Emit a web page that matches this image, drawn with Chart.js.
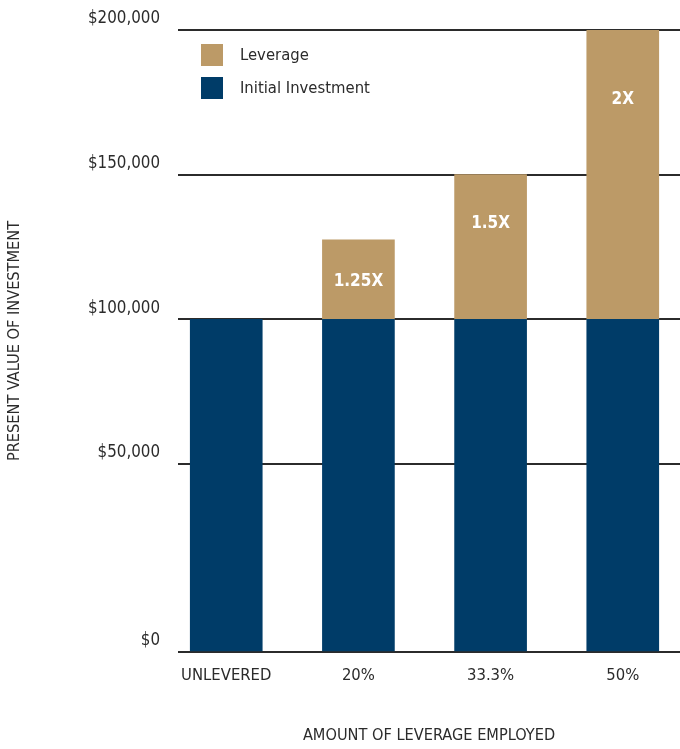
<!DOCTYPE html>
<html><head><meta charset="utf-8">
<script src="https://cdn.jsdelivr.net/npm/chart.js@4.4.1/dist/chart.umd.min.js"></script>
<style>html,body{margin:0;padding:0;background:#fff;}canvas{display:block;}</style>
</head><body>
<canvas id="c" width="680" height="749"></canvas>
<script>
// ---- data ----
const categories = ['UNLEVERED', '20%', '33.3%', '50%'];
const initialInvestment = [100000, 100000, 100000, 100000];
const leverage = [null, 27500, 50000, 100000];
const multipleLabels = ['', '1.25X', '1.5X', '2X'];
const yTickValues = [0, 50000, 100000, 150000, 200000];
const seriesNames = ['Initial Investment', 'Leverage'];
const xAxisTitle = 'AMOUNT OF LEVERAGE EMPLOYED';
const yAxisTitle = 'PRESENT VALUE OF INVESTMENT';

// ---- styling ----
const FONT = '"Liberation Sans Narrow", "DejaVu Sans Condensed", "Liberation Sans", sans-serif';
const TEXT = '#2b2b2b';
const NAVY = '#003c68';
const GOLD = '#bc9a67';

// Axis whose value intervals can have unequal visual weights (as in the original graphic)
class SegmentedScale extends Chart.LinearScale {
  static id = 'segmented';
  static defaults = {};
  _decimal(value) {
    const b = this.options.breaks, w = this.options.weights;
    const total = w.reduce((a, c) => a + c, 0);
    let acc = 0;
    for (let i = 0; i < w.length; i++) {
      if (value <= b[i + 1] || i === w.length - 1) {
        return (acc + w[i] * (value - b[i]) / (b[i + 1] - b[i])) / total;
      }
      acc += w[i];
    }
    return 0;
  }
  getPixelForValue(value) {
    if (value === null || value === undefined || isNaN(value)) return NaN;
    return this.getPixelForDecimal(this._decimal(value));
  }
  getValueForPixel(pixel) {
    const d = this.getDecimalForPixel(pixel);
    const b = this.options.breaks, w = this.options.weights;
    const total = w.reduce((a, c) => a + c, 0);
    let acc = 0;
    for (let i = 0; i < w.length; i++) {
      const f = w[i] / total;
      if (d <= acc + f || i === w.length - 1) {
        return b[i] + (d - acc) / f * (b[i + 1] - b[i]);
      }
      acc += f;
    }
    return 0;
  }
}
Chart.register(SegmentedScale);

const barLabelPlugin = {
  id: 'barLabels',
  afterDatasetsDraw(chart, args, opts) {
    const meta = chart.getDatasetMeta(1);
    const ctx = chart.ctx;
    ctx.save();
    ctx.fillStyle = '#ffffff';
    ctx.font = 'bold 17px ' + FONT;
    ctx.textAlign = 'center';
    ctx.textBaseline = 'middle';
    meta.data.forEach((el, i) => {
      const txt = multipleLabels[i];
      if (!txt || leverage[i] == null) return;
      const y = el.y + opts.positions[i] * (el.base - el.y);
      ctx.fillText(txt, el.x, y);
    });
    ctx.restore();
  }
};

const legendPlugin = {
  id: 'innerLegend',
  afterDraw(chart, args, opts) {
    const ctx = chart.ctx;
    const ca = chart.chartArea;
    const items = chart.data.datasets.slice().reverse();
    ctx.save();
    ctx.font = '16.5px ' + FONT;
    ctx.textBaseline = 'middle';
    ctx.textAlign = 'left';
    items.forEach((ds, i) => {
      const bx = ca.left + opts.offsetX;
      const by = ca.top + opts.offsetY + i * opts.rowGap;
      ctx.fillStyle = ds.backgroundColor;
      ctx.fillRect(bx, by, opts.box, opts.box);
      ctx.fillStyle = TEXT;
      ctx.fillText(ds.label, bx + opts.textGap, by + opts.box / 2 + 1);
    });
    ctx.restore();
  }
};

new Chart(document.getElementById('c'), {
  type: 'bar',
  data: {
    datasets: [
      {
        label: seriesNames[0],
        data: initialInvestment.map((v, i) => ({ x: i, y: v })),
        backgroundColor: NAVY,
        barThickness: 72,
        borderWidth: 0
      },
      {
        label: seriesNames[1],
        data: leverage.map((v, i) => ({ x: i, y: v })),
        backgroundColor: GOLD,
        barThickness: 72,
        borderWidth: 0
      }
    ]
  },
  options: {
    responsive: false,
    animation: false,
    devicePixelRatio: 1,
    layout: { padding: { top: 30, right: 0, bottom: 0, left: 0 } },
    plugins: {
      legend: { display: false },
      tooltip: { enabled: false },
      barLabels: { positions: [0, 0.53, 0.34, 0.24] },
      innerLegend: { offsetX: 23, offsetY: 14, rowGap: 33, box: 22, textGap: 39 }
    },
    scales: {
      x: {
        type: 'linear',
        min: -0.365,
        max: 3.433,
        offset: false,
        stacked: true,
        grid: { display: false, drawTicks: false, offset: false },
        border: { display: false },
        afterBuildTicks: (s) => { s.ticks = categories.map((_, i) => ({ value: i })); },
        ticks: {
          callback: (v) => categories[v] ?? '',
          autoSkip: false,
          maxRotation: 0,
          padding: 14,
          color: TEXT,
          font: { family: FONT, size: 16.5 }
        },
        title: {
          display: true,
          text: xAxisTitle,
          color: TEXT,
          font: { family: FONT, size: 16.2 },
          padding: { top: 0, bottom: 3 }
        },
        afterFit: (s) => { s.height = 97; }
      },
      y: {
        type: 'segmented',
        breaks: yTickValues,
        weights: [1.3, 1, 1, 1],
        min: 0,
        max: 200000,
        stacked: true,
        afterBuildTicks: (s) => { s.ticks = yTickValues.map(v => ({ value: v })); },
        grid: { color: '#2b2b2b', lineWidth: 2, drawTicks: false },
        border: { display: false },
        ticks: {
          callback: (v) => '$' + Number(v).toLocaleString('en-US'),
          padding: 18,
          labelOffset: -11,
          color: TEXT,
          font: { family: FONT, size: 16.8 }
        },
        title: {
          display: true,
          text: yAxisTitle,
          color: TEXT,
          font: { family: FONT, size: 16.2 },
          padding: { top: 5, bottom: 0 }
        },
        afterFit: (s) => { s.width = 178; }
      }
    }
  },
  plugins: [barLabelPlugin, legendPlugin]
});
</script>
</body></html>
